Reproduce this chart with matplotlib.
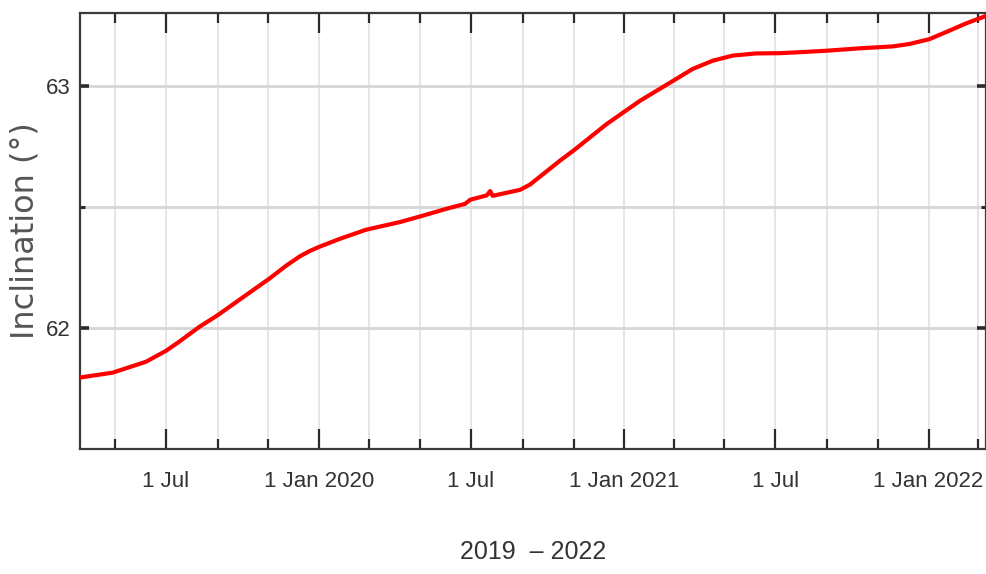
import matplotlib
matplotlib.use("Agg")
import matplotlib.pyplot as plt
import matplotlib.dates as mdates
from matplotlib.ticker import FixedLocator, FuncFormatter, NullFormatter
import pandas as pd

# Inclination time series (degrees)
dates = [
    "2019-03-20", "2019-04-28", "2019-06-07", "2019-07-01", "2019-07-17",
    "2019-08-10", "2019-09-01", "2019-10-05", "2019-11-02", "2019-11-22",
    "2019-12-09", "2019-12-21", "2020-01-02", "2020-01-26", "2020-02-26",
    "2020-04-07", "2020-05-01", "2020-06-02", "2020-06-24", "2020-06-30",
    "2020-07-20", "2020-07-24", "2020-07-27", "2020-08-29", "2020-09-10",
    "2020-09-22", "2020-10-16", "2020-11-01", "2020-12-11", "2021-01-20",
    "2021-03-01", "2021-03-24", "2021-04-17", "2021-05-11", "2021-06-08",
    "2021-07-06", "2021-07-30", "2021-08-31", "2021-10-10", "2021-11-19",
    "2021-12-09", "2022-01-02", "2022-01-26", "2022-02-15", "2022-03-11",
]
inclination = [
    61.795, 61.815, 61.860, 61.905, 61.943,
    62.004, 62.052, 62.135, 62.203, 62.256,
    62.296, 62.318, 62.336, 62.368, 62.405,
    62.437, 62.460, 62.492, 62.512, 62.529,
    62.547, 62.565, 62.545, 62.570, 62.592,
    62.625, 62.691, 62.732, 62.842, 62.938,
    63.021, 63.069, 63.103, 63.124, 63.133,
    63.134, 63.138, 63.144, 63.154, 63.162,
    63.172, 63.192, 63.227, 63.257, 63.288,
]
y_major = [62, 63]
y_minor = [62.5]
x_start, x_end = "2019-03-20", "2022-03-11"

label_font = ["Liberation Sans", "DejaVu Sans"]

fig = plt.figure(figsize=(9.87, 5.74), dpi=100)
ax = fig.add_axes([0.0811, 0.2178, 0.9180, 0.7596])

ax.plot(pd.to_datetime(dates), inclination, color="#ff0000", lw=3.0,
        solid_capstyle="round", solid_joinstyle="round", zorder=3)

ax.set_xlim(pd.Timestamp(x_start), pd.Timestamp(x_end))
ax.set_ylim(61.5, 63.3)

ax.xaxis.set_major_locator(mdates.MonthLocator(bymonth=[1, 7]))
ax.xaxis.set_minor_locator(mdates.MonthLocator(bymonth=[3, 5, 9, 11]))


def date_label(v, pos):
    d = mdates.num2date(v)
    if d.month == 1:
        return f"1 Jan {d.year}"
    return "1 Jul"


ax.xaxis.set_major_formatter(FuncFormatter(date_label))
ax.xaxis.set_minor_formatter(NullFormatter())
ax.yaxis.set_major_locator(FixedLocator(y_major))
ax.yaxis.set_minor_locator(FixedLocator(y_minor))
ax.yaxis.set_major_formatter(FuncFormatter(lambda v, p: f"{v:.0f}"))

ax.grid(which="both", axis="x", color="#e4e4e4", lw=1.3, zorder=0)
ax.grid(which="both", axis="y", color="#d6d6d6", lw=2.0, zorder=0)

for s in ax.spines.values():
    s.set_color("#3a3a3a")
    s.set_linewidth(1.6)

ax.tick_params(which="both", direction="in", top=True, right=True,
               color="#2a2a2a")
ax.tick_params(axis="x", which="major", length=14.5, width=1.6, pad=16)
ax.tick_params(axis="x", which="minor", length=7.5, width=1.6)
ax.tick_params(axis="y", which="major", length=6.5, width=2.6, pad=7)
ax.tick_params(axis="y", which="minor", length=3.5, width=2.2)

for lab in ax.get_xticklabels() + ax.get_yticklabels():
    lab.set_family(label_font)
    lab.set_fontsize(16)
    lab.set_color("#333333")

ax.set_xlabel("2019  – 2022", family=label_font, fontsize=18,
              color="#333333")
ax.xaxis.set_label_coords(0.5, -0.208)
ax.set_ylabel("Inclination (°)", fontsize=23, color="#555555")
ax.yaxis.set_label_coords(-0.044, 0.5)

fig.savefig("out.png", dpi=100)
